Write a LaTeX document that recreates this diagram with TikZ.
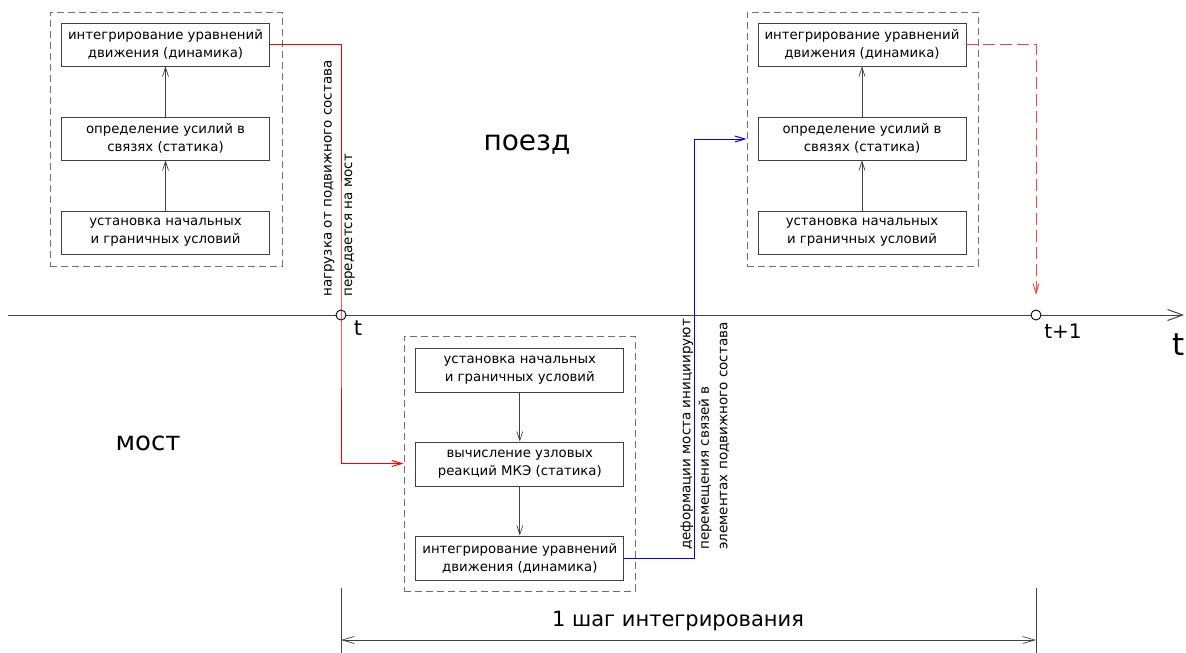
\documentclass[tikz,border=0pt]{standalone}
\usepackage{fontspec}
\setmainfont{DejaVu Sans}
\usetikzlibrary{arrows.meta}
\definecolor{boxc}{HTML}{404040}
\definecolor{grpc}{HTML}{707070}
\definecolor{redc}{HTML}{FF0000}
\definecolor{redl}{HTML}{FF4040}
\definecolor{bluec}{HTML}{0000FF}
\begin{document}
\begin{tikzpicture}[x=1pt,y=-1pt,
  box/.style={draw=boxc, line width=0.9pt, minimum width=208pt, minimum height=43pt, inner sep=0pt, align=center, font=\fontsize{13.3}{18}\selectfont},
  group/.style={draw=grpc, dash pattern=on 7pt off 4pt, line width=0.9pt, inner sep=0pt},
  flow/.style={draw=boxc, line width=0.7pt, -{Straight Barb[length=9pt,width=6pt]}},
  redflow/.style={draw=redc, line width=1pt, -{Straight Barb[length=10pt,width=6pt]}},
  reddash/.style={draw=redl, line width=0.9pt, dash pattern=on 12pt off 5pt, -{Straight Barb[length=10pt,width=6pt]}},
  blueflow/.style={draw=bluec, line width=1pt, -{Straight Barb[length=10pt,width=6pt]}},
  tick/.style={circle, draw=black, fill=white, line width=0.9pt, minimum size=10pt, inner sep=0pt},
  vlabel/.style={rotate=90, anchor=west, align=left, inner sep=0pt, font=\fontsize{13.5}{20.5}\selectfont},
  axisline/.style={draw=boxc, line width=1pt},
  dimline/.style={draw=boxc, line width=0.7pt},
]
\useasboundingbox (0,0) rectangle (1186,653);

% groups
\node[group, minimum width=232pt, minimum height=254pt] (gL) at (166,139) {};
\node[group, minimum width=231pt, minimum height=254pt] (gR) at (862.5,139) {};
\node[group, minimum width=231pt, minimum height=255pt] (gB) at (519.5,463.5) {};

% train, time t
\node[box] (L3) at (165.5,44.5) {интегрирование уравнений\\движения (динамика)};
\node[box] (L2) at (165.5,138.5) {определение усилий в\\связях (статика)};
\node[box] (L1) at (165.5,232.5) {установка начальных\\и граничных условий};
\draw[flow] (L1) -- (L2);
\draw[flow] (L2) -- (L3);

% train, time t+1
\node[box] (R3) at (862,44.5) {интегрирование уравнений\\движения (динамика)};
\node[box] (R2) at (862,138.5) {определение усилий в\\связях (статика)};
\node[box] (R1) at (862,232.5) {установка начальных\\и граничных условий};
\draw[flow] (R1) -- (R2);
\draw[flow] (R2) -- (R3);

% bridge
\node[box, minimum height=44pt] (B1) at (519.8,370) {установка начальных\\и граничных условий};
\node[box, minimum height=44pt] (B2) at (519.8,464) {вычисление узловых\\реакций МКЭ (статика)};
\node[box, minimum height=44pt] (B3) at (519.8,558) {интегрирование уравнений\\движения (динамика)};
\draw[flow] (B1) -- (B2);
\draw[flow] (B2) -- (B3);

% time axis
\coordinate (ax0) at (8,315);
\coordinate (ax1) at (1184,315);
\draw[axisline, -{Straight Barb[length=15pt,width=11pt]}] (ax0) -- (ax1);
\node[tick] (c1) at (341,315) {};
\node[tick] (c2) at (1036,315) {};
\node[font=\fontsize{21}{24}\selectfont, inner sep=0pt] (lt) at (358,328) {t};
\node[font=\fontsize{20}{24}\selectfont, inner sep=0pt] (lt1) at (1063,331) {t+1};
\node[font=\fontsize{31}{36}\selectfont, inner sep=0pt] (lT) at (1179,345) {t};

% big labels
\node[font=\fontsize{28}{32}\selectfont, inner sep=0pt] (train) at (527,145) {поезд};
\node[font=\fontsize{26}{30}\selectfont, inner sep=0pt] (bridge) at (148,443) {мост};

% red transfer
\draw[redflow] (L3.east) -| (c1.center) |- (gB.west);
\node[vlabel] (lab1) at (339.5,297) {нагрузка от подвижного состава\\передается на мост};

% blue transfer
\coordinate (bx) at (694,558);
\draw[blueflow] (B3.east) -- (bx) |- (gR.west);
\node[vlabel, font=\fontsize{13.5}{18.5}\selectfont] (lab2) at (705,550) {деформации моста инициируют\\перемещения связей в\\элементах подвижного состава};

% next step
\draw[reddash, shorten >=20pt] (R3.east) -| (c2.center);

% dimension
\coordinate (e1a) at (341,588);
\coordinate (e1b) at (341,653);
\coordinate (e2a) at (1036,588);
\coordinate (e2b) at (1036,653);
\draw[dimline] (e1a) -- (e1b);
\draw[dimline] (e2a) -- (e2b);
\coordinate (d1) at (341,640);
\coordinate (d2) at (1036,640);
\draw[dimline, {Straight Barb[length=12pt,width=7pt]}-{Straight Barb[length=12pt,width=7pt]}] (d1) -- (d2);
\node[font=\fontsize{21}{24}\selectfont, inner sep=0pt] (dimtxt) at (678,621) {1 шаг интегрирования};
\end{tikzpicture}
\end{document}
